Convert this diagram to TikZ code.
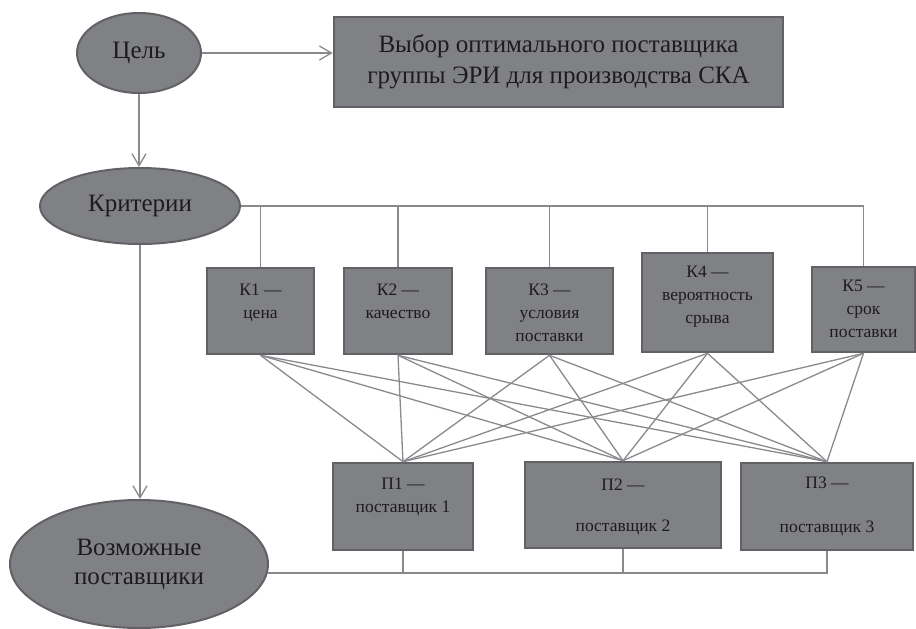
\documentclass[tikz,border=0pt]{standalone}
\usepackage{fontspec}
\setmainfont{Liberation Serif}
\usetikzlibrary{shapes.geometric,arrows.meta}

\definecolor{boxfill}{RGB}{128,129,133}
\definecolor{boxline}{RGB}{98,98,102}
\definecolor{linkgray}{RGB}{138,138,140}
\definecolor{txt}{RGB}{30,27,28}

\newcommand{\bigtxt}{\fontsize{25}{31}\selectfont}
\newcommand{\ovaltxt}{\fontsize{25}{29}\selectfont}
\newcommand{\smalltxt}{\fontsize{17.5}{23}\selectfont}
% width, height, first baseline, text
\newcommand{\boxtxt}[4]{\parbox[c][#2pt][t]{#1pt}{\centering\rule{0pt}{#3pt}#4}}

\tikzset{
  oval/.style={ellipse, draw=boxline, line width=2pt, fill=boxfill, inner sep=0pt, font=\bigtxt, text=txt, align=center},
  goalbox/.style={draw=boxline, line width=2.6pt, fill=boxfill, inner sep=0pt, minimum width=449pt, minimum height=90pt, font=\bigtxt, text=txt, align=center},
  critbox/.style={draw=boxline, line width=2.6pt, fill=boxfill, inner sep=0pt, font=\smalltxt, text=txt},
  link/.style={draw=linkgray, line width=1.3pt},
  arr/.style={link, -{Straight Barb[length=12pt,width=14pt]}}
}

\begin{document}
\begin{tikzpicture}[x=1pt, y=-1pt]
		%%%%% START %%%%%
		\useasboundingbox (0,0) rectangle (916,629);
		
		\node[oval, minimum width=124pt, minimum height=80pt] (cel) at (139,53) {Цель};
		\node[goalbox] (goal) at (558.5,62) {Выбор оптимального поставщика\\группы ЭРИ для производства СКА};
		\node[oval, minimum width=200pt, minimum height=76pt] (krit) at (140,206) {Критерии};
		\node[oval, minimum width=258pt, minimum height=128pt, font=\ovaltxt] (voz) at (139,564) {Возможные\\поставщики};
		
		% criteria
		\node[critbox] (k1) at (260.5,311) {\boxtxt{107}{86}{27}{К1 —\\цена}};
		\node[critbox] (k2) at (398,311) {\boxtxt{108}{86}{27}{К2 —\\качество}};
		\node[critbox] (k3) at (549.5,311) {\boxtxt{127}{86}{27}{К3 —\\условия\\поставки}};
		\node[critbox] (k4) at (707.5,302.5) {\boxtxt{131}{99}{24}{К4 —\\вероятность\\срыва}};
		\node[critbox] (k5) at (863.5,309.5) {\boxtxt{103}{85}{24}{К5 —\\срок\\поставки}};
		
		% suppliers
		\node[critbox] (p1) at (403,506.5) {\boxtxt{140}{87}{26}{П1 —\\поставщик 1}};
		\node[critbox] (p2) at (623,505) {\boxtxt{196}{86}{28}{П2 —\\[18pt]поставщик 2}};
		\node[critbox] (p3) at (827,506.5) {\boxtxt{172}{87}{25}{П3 —\\[21pt]поставщик 3}};
		
		\draw[arr] (cel.east) -- (cel.east -| goal.west);
		\draw[arr] (cel.south) -- (cel.south |- krit.north);
		\draw[arr] (krit.south) -- (krit.south |- voz.north);
		
		\draw[link] (krit.east) -| (k5.north);
		\foreach \k in {k1,k2,k3,k4}
			\draw[link] (\k.north) -- (\k.north |- krit.east);
		
		\foreach \i in {1,...,5}
			\foreach \j in {1,2,3}
				\draw[link] (k\i.south) -- (p\j.north);
		
		\draw[link] (voz.-4) -| (p3.south);
		\foreach \j in {1,2}
			\draw[link] (p\j.south) -- (p\j.south |- voz.-4);
		
		%%%%% END %%%%%
\end{tikzpicture}
\end{document}
